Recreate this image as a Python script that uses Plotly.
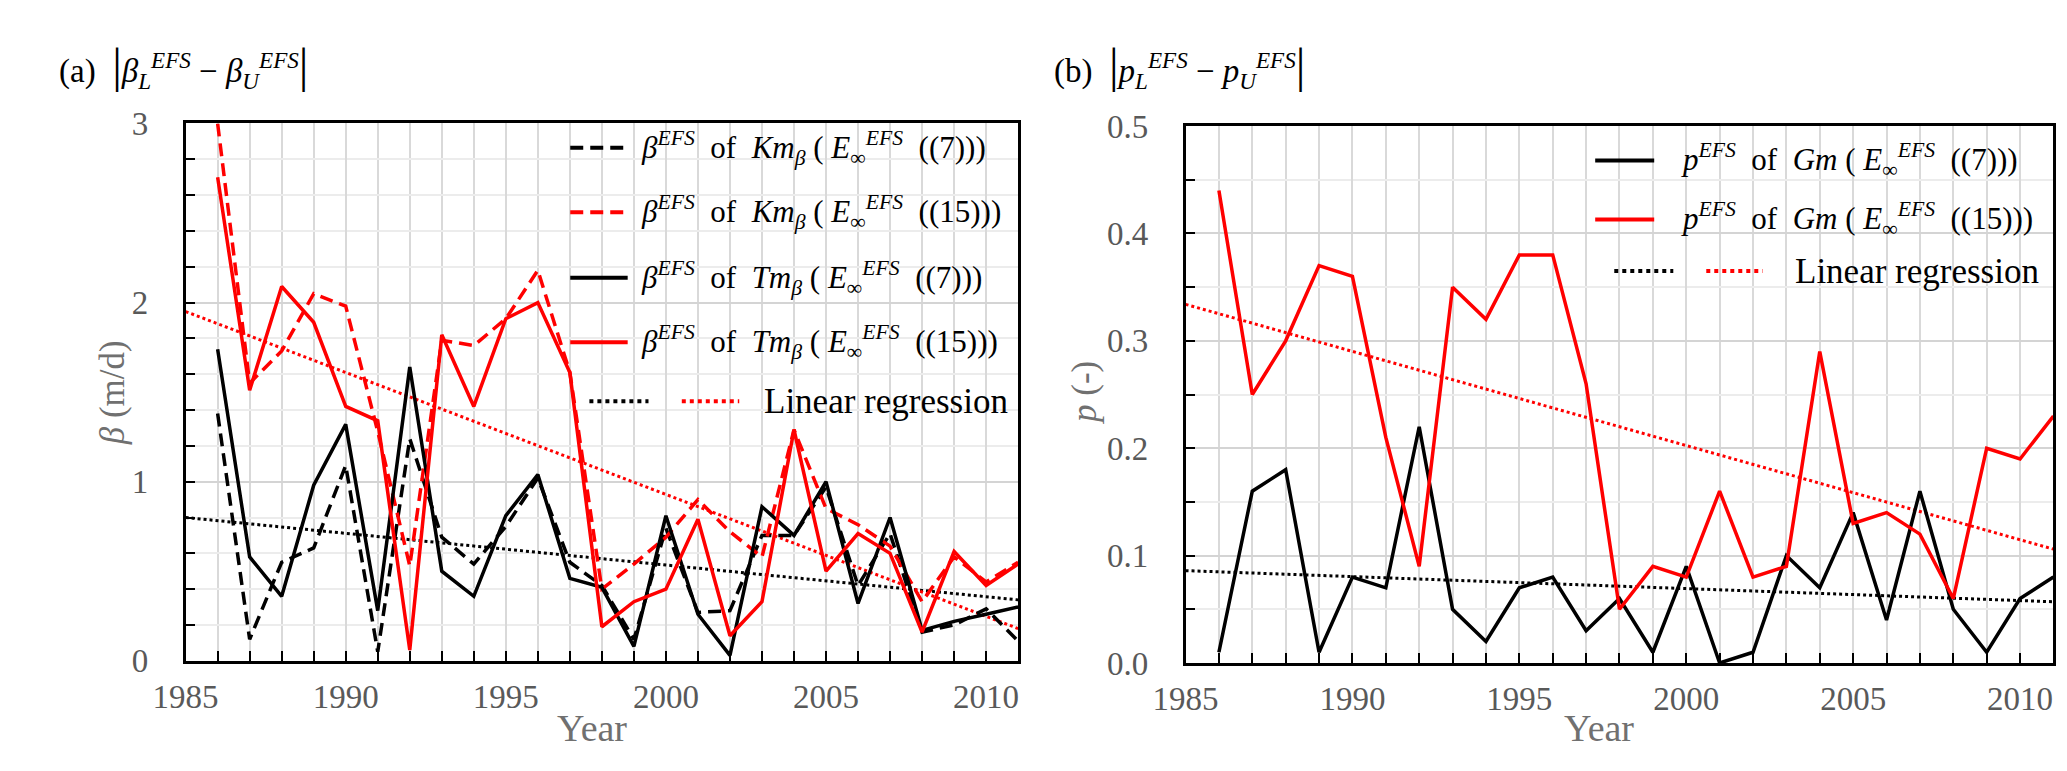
import plotly.graph_objects as go

# ---- data ----
years = [1986, 1987, 1988, 1989, 1990, 1991, 1992, 1993, 1994, 1995, 1996, 1997, 1998,
         1999, 2000, 2001, 2002, 2003, 2004, 2005, 2006, 2007, 2008, 2009, 2010, 2011]

# (a) beta EFS, m/d
km7 = [1.38, 0.12, 0.55, 0.63, 1.09, 0.05, 1.24, 0.69, 0.54, 0.75, 1.02, 0.55, 0.42,
       0.12, 0.74, 0.27, 0.28, 0.70, 0.70, 0.97, 0.42, 0.71, 0.16, 0.20, 0.29, 0.11]
km15 = [3.00, 1.55, 1.73, 2.05, 1.98, 1.28, 0.53, 1.79, 1.76, 1.91, 2.18, 1.61, 0.40,
        0.54, 0.69, 0.90, 0.72, 0.58, 1.29, 0.85, 0.76, 0.64, 0.33, 0.58, 0.44, 0.55]
tm7 = [1.74, 0.58, 0.36, 0.98, 1.32, 0.28, 1.64, 0.50, 0.36, 0.81, 1.04, 0.46, 0.41,
       0.08, 0.81, 0.26, 0.03, 0.86, 0.70, 1.00, 0.32, 0.80, 0.17, 0.22, 0.26, 0.30]
tm15 = [2.70, 1.51, 2.09, 1.89, 1.42, 1.34, 0.06, 1.82, 1.42, 1.91, 2.00, 1.61, 0.19,
        0.33, 0.40, 0.79, 0.14, 0.33, 1.29, 0.50, 0.71, 0.60, 0.16, 0.61, 0.42, 0.54]
reg_years = [1985, 2011]
reg_a_black = [0.80, 0.34]
reg_a_red = [1.95, 0.18]

# (b) p EFS, -
gm7 = [0.01, 0.16, 0.18, 0.01, 0.08, 0.07, 0.22, 0.05, 0.02, 0.07, 0.08, 0.03, 0.06,
       0.01, 0.09, 0.00, 0.01, 0.10, 0.07, 0.14, 0.04, 0.16, 0.05, 0.01, 0.06, 0.08]
gm15 = [0.44, 0.25, 0.30, 0.37, 0.36, 0.21, 0.09, 0.35, 0.32, 0.38, 0.38, 0.26, 0.05,
        0.09, 0.08, 0.16, 0.08, 0.09, 0.29, 0.13, 0.14, 0.12, 0.06, 0.20, 0.19, 0.23]
reg_b_black = [0.086, 0.057]
reg_b_red = [0.334, 0.106]

SERIF = "Liberation Serif"
RED = "#ff0000"
GRID = "#d9d9d9"
TICKCOL = "#595959"
TITLECOL = "#707070"
DASH = "13px,7px"
LW = 3.5

fig = go.Figure()

def add_line(x, y, color, dash, xa, ya, width=LW):
    fig.add_trace(go.Scatter(x=x, y=y, mode="lines", xaxis=xa, yaxis=ya,
                             line=dict(color=color, width=width, dash=dash),
                             showlegend=False, hoverinfo="skip"))

# panel (a)
add_line(reg_years, reg_a_black, "black", "dot", "x", "y", 3)
add_line(reg_years, reg_a_red, RED, "dot", "x", "y", 3)
add_line(years, km7, "black", DASH, "x", "y")
add_line(years, km15, RED, DASH, "x", "y")
add_line(years, tm7, "black", "solid", "x", "y")
add_line(years, tm15, RED, "solid", "x", "y")

# panel (b)
add_line(reg_years, reg_b_black, "black", "dot", "x2", "y2", 3)
add_line(reg_years, reg_b_red, RED, "dot", "x2", "y2", 3)
add_line(years, gm7, "black", "solid", "x2", "y2")
add_line(years, gm15, RED, "solid", "x2", "y2")

xcommon = dict(range=[1985, 2011], tick0=1985, dtick=5, ticks="inside", ticklen=10,
               tickwidth=2, tickcolor="black", showgrid=True, gridcolor=GRID, gridwidth=2,
               minor=dict(dtick=1, ticks="inside", ticklen=10, tickwidth=2, tickcolor="black",
                          showgrid=True, gridcolor=GRID, gridwidth=2),
               showline=True, linecolor="black", linewidth=2.5, mirror=True, zeroline=False,
               tickfont=dict(family=SERIF, size=33, color=TICKCOL), ticklabelstandoff=5)

ycommon = dict(ticks="inside", ticklen=10, tickwidth=2, tickcolor="black",
               showgrid=True, gridcolor="#d4d4d4", gridwidth=2,
               showline=True, linecolor="black", linewidth=2.5, mirror=True, zeroline=False,
               tickfont=dict(family=SERIF, size=33, color=TICKCOL), ticklabelstandoff=28)

fig.update_layout(
    width=2067, height=771,
    margin=dict(l=0, r=0, t=0, b=0),
    paper_bgcolor="white", plot_bgcolor="white",
    xaxis=dict(domain=[0.0711, 0.4804], anchor="y", **xcommon),
    yaxis=dict(domain=[0.135, 0.866], anchor="x", range=[0, 3], tick0=0, dtick=1,
               minor=dict(dtick=0.2, ticks="inside", ticklen=10, tickwidth=2, tickcolor="black",
                          showgrid=True, gridcolor="#ececec", gridwidth=2),
               **ycommon),
    xaxis2=dict(domain=[0.5627, 0.9894], anchor="y2", **xcommon),
    yaxis2=dict(domain=[0.132, 0.8625], anchor="x2", range=[0, 0.5], tick0=0, dtick=0.1,
                tickformat=".1f",
                minor=dict(dtick=0.05, ticks="inside", ticklen=10, tickwidth=2, tickcolor="black",
                           showgrid=True, gridcolor="#ececec", gridwidth=2),
                **ycommon),
)

shapes = []
annotations = []

def legend_row(xd, yd, x0, x1, y, color, dash, width=4):
    shapes.append(dict(type="line", xref=xd, yref=yd, x0=x0, x1=x1, y0=y, y1=y,
                       line=dict(color=color, width=width, dash=dash)))

def legend_text(xd, yd, x, y, text, size=31):
    annotations.append(dict(xref=xd, yref=yd, x=x, y=y, text=text, showarrow=False,
                            xanchor="left", yanchor="middle",
                            font=dict(family=SERIF, size=size, color="black")))

sup_efs = "<sup><i>EFS</i></sup>"
e_inf = "<i>E</i><sub>∞</sub>" + sup_efs

# legend (a)
rows_a = [
    ("black", DASH, "<i>Km</i><sub><i>β</i></sub>", "((7)))"),
    (RED, DASH, "<i>Km</i><sub><i>β</i></sub>", "((15)))"),
    ("black", "solid", "<i>Tm</i><sub><i>β</i></sub>", "((7)))"),
    (RED, "solid", "<i>Tm</i><sub><i>β</i></sub>", "((15)))"),
]
ys_a = [0.955, 0.835, 0.713, 0.593]
for (c, d, model, eq), yy in zip(rows_a, ys_a):
    legend_row("x domain", "y domain", 0.462, 0.531, yy, c, d)
    legend_text("x domain", "y domain", 0.545, yy,
                "<i>β</i>" + sup_efs + "  of  " + model + " ( " + e_inf + "  " + eq)
legend_row("x domain", "y domain", 0.485, 0.556, 0.483, "black", "dot")
legend_row("x domain", "y domain", 0.596, 0.665, 0.483, RED, "dot")
legend_text("x domain", "y domain", 0.692, 0.483, "Linear regression", size=35)

# legend (b)
rows_b = [("black", "((7)))"), (RED, "((15)))")]
ys_b = [0.936, 0.826]
for (c, eq), yy in zip(rows_b, ys_b):
    legend_row("x2 domain", "y2 domain", 0.472, 0.540, yy, c, "solid")
    legend_text("x2 domain", "y2 domain", 0.569, yy,
                "<i>p</i>" + sup_efs + "  of  <i>Gm</i> ( " + e_inf + "  " + eq)
legend_row("x2 domain", "y2 domain", 0.494, 0.562, 0.730, "black", "dot")
legend_row("x2 domain", "y2 domain", 0.600, 0.665, 0.730, RED, "dot")
legend_text("x2 domain", "y2 domain", 0.700, 0.730, "Linear regression", size=35)

# panel titles
bar = "<span style='font-size:48px'>|</span>"
annotations.append(dict(xref="paper", yref="paper", x=0.008, y=0.944, showarrow=False,
                        xanchor="left", yanchor="middle",
                        text="(a)  " + bar + "<i>β</i><sub><i>L</i></sub>" + sup_efs + " − <i>β</i><sub><i>U</i></sub>" + sup_efs + bar,
                        font=dict(family=SERIF, size=33, color="black")))
annotations.append(dict(xref="paper", yref="paper", x=0.497, y=0.944, showarrow=False,
                        xanchor="left", yanchor="middle",
                        text="(b)  " + bar + "<i>p</i><sub><i>L</i></sub>" + sup_efs + " − <i>p</i><sub><i>U</i></sub>" + sup_efs + bar,
                        font=dict(family=SERIF, size=33, color="black")))

# axis titles
annotations.append(dict(xref="paper", yref="paper", x=0.0353, y=0.50, showarrow=False,
                        xanchor="center", yanchor="middle",
                        text="<i>β</i> (m/d)", textangle=-90,
                        font=dict(family=SERIF, size=35, color=TITLECOL)))
annotations.append(dict(xref="paper", yref="paper", x=0.513, y=0.50, showarrow=False,
                        xanchor="center", yanchor="middle",
                        text="<i>p</i> (-)", textangle=-90,
                        font=dict(family=SERIF, size=35, color=TITLECOL)))
annotations.append(dict(xref="paper", yref="paper", x=0.271, y=0.043, showarrow=False,
                        xanchor="center", yanchor="middle",
                        text="Year", font=dict(family=SERIF, size=38, color=TITLECOL)))
annotations.append(dict(xref="paper", yref="paper", x=0.766, y=0.043, showarrow=False,
                        xanchor="center", yanchor="middle",
                        text="Year", font=dict(family=SERIF, size=38, color=TITLECOL)))

fig.update_layout(shapes=shapes, annotations=annotations)

fig.write_html("out.html")
